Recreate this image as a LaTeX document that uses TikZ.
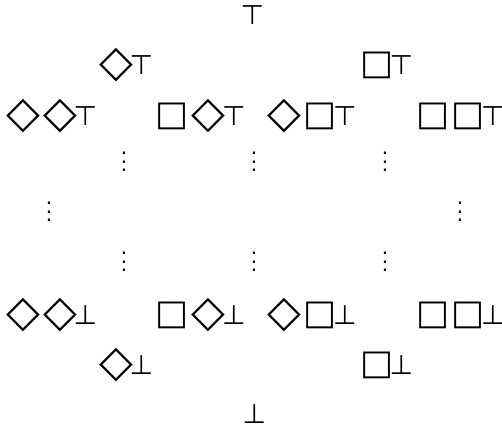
\documentclass[tikz,border=0pt]{standalone}
\usepackage{fontspec}
\usepackage{tikz}
\newfontfamily\symfont{DejaVu Sans}
% one glyph, centred on the axis, in a box of fixed width
\newcommand{\glyph}[3]{\makebox[#1]{$\vcenter{\hbox{\fontsize{#2}{#2}\selectfont #3}}$}}
\newcommand{\dia}{\glyph{37pt}{44pt}{◇}}
\newcommand{\bx}{\glyph{35pt}{35pt}{□}}
\newcommand{\tp}{\glyph{14pt}{27pt}{⊤}}
\newcommand{\bt}{\glyph{14pt}{27pt}{⊥}}
\newcommand{\vd}{$\vcenter{\hbox{\fontsize{20pt}{20pt}\selectfont
  \vbox{\baselineskip=8.7pt\lineskiplimit=0pt\hbox{.}\hbox{.}\hbox{.}}}}$}

\begin{document}
\begin{tikzpicture}[x=1pt,y=-1pt,
  formula/.style={inner sep=0pt,font=\symfont}]
  \useasboundingbox (0,0) rectangle (502,428);
  % top element
  \node[formula] (top) at (252.5,15) {\tp};
  % one modality
  \node[formula] (dT) at (123,65.5) {\dia\tp};
  \node[formula] (bT) at (384,65.5) {\bx\tp};
  % two modalities
  \node[formula] (ddT) at (48.5,116.5) {\dia\dia\tp};
  \node[formula] (bdT) at (198,116.5) {\bx\dia\tp};
  \node[formula] (dbT) at (309,116.5) {\dia\bx\tp};
  \node[formula] (bbT) at (458,116.5) {\bx\bx\tp};
  % dots in between
  \node[formula] (v1) at (124,162) {\vd};
  \node[formula] (v2) at (254,162) {\vd};
  \node[formula] (v3) at (385,162) {\vd};
  \node[formula] (v4) at (49,212) {\vd};
  \node[formula] (v5) at (460,212) {\vd};
  \node[formula] (v6) at (124,262) {\vd};
  \node[formula] (v7) at (254,262) {\vd};
  \node[formula] (v8) at (385,262) {\vd};
  % two modalities over bottom
  \node[formula] (ddB) at (48.5,315.5) {\dia\dia\bt};
  \node[formula] (bdB) at (198,315.5) {\bx\dia\bt};
  \node[formula] (dbB) at (309,315.5) {\dia\bx\bt};
  \node[formula] (bbB) at (458,315.5) {\bx\bx\bt};
  % one modality over bottom
  \node[formula] (dB) at (123,365.5) {\dia\bt};
  \node[formula] (bB) at (384,365.5) {\bx\bt};
  % bottom element
  \node[formula] (bot) at (254.5,414) {\bt};
\end{tikzpicture}
\end{document}
